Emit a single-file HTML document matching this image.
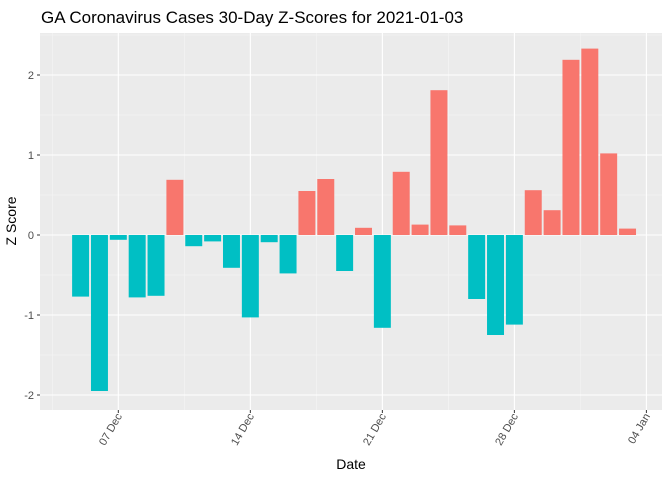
<!DOCTYPE html>
<html><head><meta charset="utf-8"><style>
body{margin:0;background:#fff;font-family:"Liberation Sans",Arial,sans-serif}
</style></head><body>
<svg id="chart" width="672" height="480" xmlns="http://www.w3.org/2000/svg">
<rect width="672" height="480" fill="#fff"/>
<text x="41" y="23" font-size="17" fill="#000">GA Coronavirus Cases 30-Day Z-Scores for 2021-01-03</text>
<rect x="40" y="33" width="622" height="377" fill="#EBEBEB"/>
<g id="grid"></g><g id="bars"></g><g id="axes"></g>
<text x="351" y="469" font-size="14" text-anchor="middle" fill="#000">Date</text>
<text transform="translate(16,221) rotate(-90)" font-size="14" text-anchor="middle" fill="#000">Z Score</text>
</svg>
<script>
const dayOffsets=[0,1,2,3,4,5,6,7,8,9,10,11,12,13,14,15,16,17,18,19,20,21,22,23,24,25,26,27,28,29];
const zScores=[-0.77,-1.95,-0.06,-0.78,-0.76,0.69,-0.14,-0.08,-0.41,-1.03,-0.09,-0.48,0.55,0.70,-0.45,0.09,-1.16,0.79,0.13,1.81,0.12,-0.80,-1.25,-1.12,0.56,0.31,2.19,2.33,1.02,0.08];
const yTicks=[-2,-1,0,1,2];
const xTickDays=[2,9,16,23,30];
const xTickLabels=["07 Dec","14 Dec","21 Dec","28 Dec","04 Jan"];
const NS="http://www.w3.org/2000/svg";
const px=18.86,x0=80.6;
function xs(d){return x0+d*px;}
function ys(v){return 235-v*80;}
function mk(t,a,p){const e=document.createElementNS(NS,t);for(const k in a)e.setAttribute(k,a[k]);p.appendChild(e);return e;}
const grid=document.getElementById('grid'),bars=document.getElementById('bars'),axes=document.getElementById('axes');
for(let v=-2.5;v<=2.5;v+=1){const y=ys(v);if(y>33&&y<410){const l=mk('line',{x1:40,x2:662,y1:y,y2:y,stroke:'#F5F5F5','stroke-width':0.6},grid);

}}
for(let i=0;i<xTickDays.length+1;i++){const x=xs(xTickDays[0]-3.5+i*7);if(x>40&&x<662){const l=mk('line',{x1:x,x2:x,y1:33,y2:410,stroke:'#F5F5F5','stroke-width':0.6},grid);

}}
yTicks.forEach(v=>{const y=ys(v);const l=mk('line',{x1:40,x2:662,y1:y,y2:y,stroke:'#fff','stroke-width':1.1},grid);


mk('line',{x1:37,x2:40,y1:y,y2:y,stroke:'#333'},axes);
const t=mk('text',{x:34,y:y+4,'font-size':11,'text-anchor':'end',fill:'#4D4D4D'},axes);t.textContent=v;

});
xTickDays.forEach((d,i)=>{const x=xs(d);const l=mk('line',{x1:x,x2:x,y1:33,y2:410,stroke:'#fff','stroke-width':1.1},grid);


mk('line',{x1:x,x2:x,y1:410,y2:413,stroke:'#333'},axes);
const t=mk('text',{transform:`translate(${x+4},${416}) rotate(-60)`,'font-size':11,'text-anchor':'end',fill:'#4D4D4D'},axes);t.textContent=xTickLabels[i];

});
zScores.forEach((v,i)=>{const x=xs(dayOffsets[i]);const w=px*0.9;const y=Math.min(ys(v),ys(0));const h=Math.abs(ys(v)-ys(0));
const r=mk('rect',{x:x-w/2,y:y,width:w,height:h,fill:v>=0?'#F8766D':'#00BFC4'},bars);

});
</script>
</body></html>
